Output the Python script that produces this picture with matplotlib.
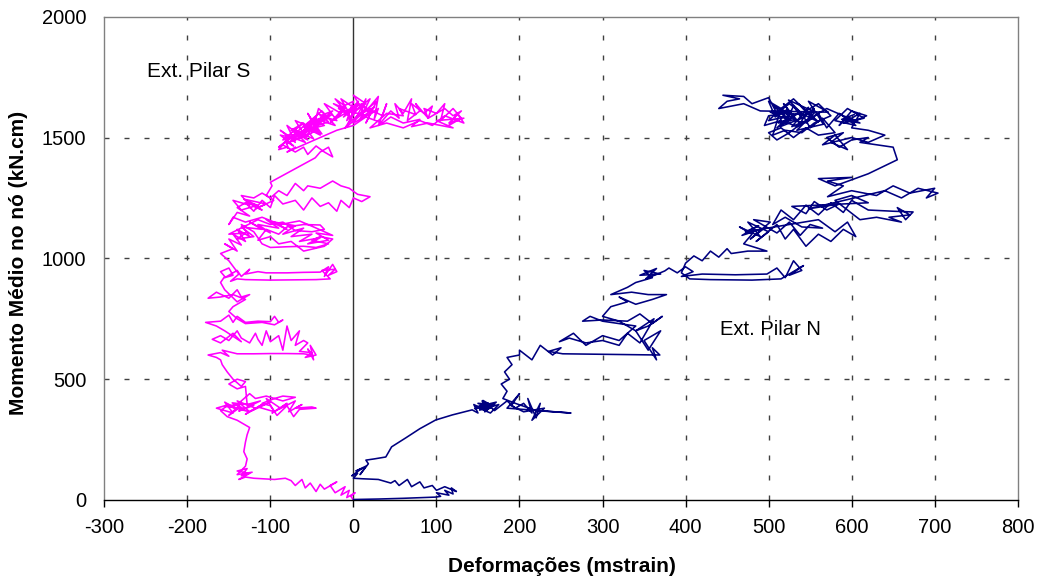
import numpy as np
import matplotlib
matplotlib.use("Agg")
import matplotlib.pyplot as plt

plt.rcParams['font.family'] = ['Liberation Sans', 'DejaVu Sans']
plt.rcParams['axes.unicode_minus'] = False

# Strain gauge readings (mstrain) vs. mean joint moment (kN.cm)
pilar_s_points = [
    (0, 0), (-3, 15), (2, 30), (-8, 10), (-5, 40), (-15, 20), (-10, 55), (-22, 30),
    (-28, 60), (-20, 75), (-35, 45), (-40, 65), (-45, 35), (-52, 70), (-58, 50),
    (-62, 85), (-70, 60), (-75, 80), (-82, 90), (-95, 85), (-110, 88), (-120, 90),
    (-130, 95), (-138, 85), (-125, 110), (-140, 120), (-128, 130), (-135, 100),
    (-122, 115), (-140, 105), (-130, 140), (-128, 170), (-132, 200), (-130, 240),
    (-128, 270), (-125, 300), (-140, 330), (-152, 345),
    (-160, 370), (-150, 395), (-165, 380), (-145, 360), (-155, 405), (-140, 375),
    (-150, 350), (-135, 400), (-148, 385), (-125, 365), (-140, 410), (-118, 380),
    (-130, 355), (-110, 395), (-122, 370), (-100, 405), (-115, 385), (-95, 365),
    (-105, 420), (-88, 380), (-98, 360), (-80, 400), (-90, 375), (-70, 410),
    (-78, 365), (-62, 395), (-70, 380), (-50, 385), (-45, 380), (-65, 375),
    (-72, 345), (-80, 390), (-92, 350), (-100, 390), (-110, 400), (-95, 420),
    (-85, 430), (-70, 425), (-85, 410), (-105, 430), (-118, 420), (-125, 440),
    (-140, 395), (-155, 388), (-132, 378), (-146, 402), (-120, 392), (-138, 368),
    (-112, 410), (-128, 395),
    (-130, 470), (-140, 460), (-150, 480), (-140, 500), (-130, 490), (-135, 470),
    (-145, 500), (-152, 530), (-158, 560), (-160, 580),
    (-165, 590), (-175, 600), (-160, 610), (-150, 595), (-158, 620), (-140, 605),
    (-120, 605), (-100, 606), (-80, 606), (-60, 605), (-50, 600), (-55, 625),
    (-48, 580), (-52, 640), (-45, 600), (-58, 590), (-50, 610), (-65, 615),
    (-55, 650), (-60, 660), (-70, 640), (-65, 700), (-75, 660), (-80, 720),
    (-85, 620), (-90, 680), (-100, 655), (-105, 700), (-110, 640), (-115, 665),
    (-118, 690), (-125, 650), (-135, 670), (-140, 700), (-150, 660), (-160, 680),
    (-170, 665), (-160, 650), (-145, 690), (-135, 655), (-155, 700), (-165, 720),
    (-178, 735), (-160, 740), (-150, 765), (-145, 735), (-140, 760), (-130, 735),
    (-115, 740), (-100, 738), (-95, 760), (-90, 735), (-85, 745), (-95, 725),
    (-110, 735), (-130, 730), (-140, 750), (-150, 780), (-145, 800),
    (-130, 830), (-145, 850), (-160, 840), (-175, 835), (-165, 860), (-150, 835),
    (-140, 870), (-135, 840), (-125, 850), (-140, 820), (-155, 870), (-160, 900),
    (-155, 925),
    (-160, 945), (-150, 960), (-145, 930), (-155, 920), (-140, 950), (-135, 925),
    (-125, 955), (-130, 935), (-115, 945), (-105, 940), (-80, 940), (-60, 942),
    (-40, 943), (-30, 965), (-35, 925), (-25, 975), (-20, 945), (-30, 930),
    (-22, 955), (-38, 950), (-28, 915), (-45, 912), (-70, 911), (-100, 910),
    (-130, 912), (-140, 915), (-148, 905), (-138, 935), (-150, 990),
    (-160, 1020), (-145, 1040), (-155, 1060), (-140, 1030), (-150, 1080),
    (-135, 1055), (-145, 1100), (-130, 1070), (-140, 1120), (-125, 1090),
    (-135, 1140), (-120, 1110), (-110, 1060), (-100, 1045), (-80, 1048),
    (-60, 1050), (-45, 1045), (-30, 1060), (-50, 1075), (-40, 1090), (-25, 1080),
    (-35, 1050), (-60, 1030), (-75, 1070), (-90, 1060), (-100, 1090), (-115, 1075),
    (-105, 1120), (-90, 1100), (-80, 1130), (-60, 1140), (-40, 1138), (-35, 1120),
    (-50, 1110), (-70, 1115), (-85, 1150), (-100, 1140), (-115, 1160),
    (-150, 1100), (-130, 1105), (-140, 1080), (-120, 1090), (-135, 1130),
    (-110, 1120), (-125, 1150), (-100, 1105), (-115, 1140), (-90, 1125),
    (-105, 1160), (-80, 1120), (-95, 1150), (-70, 1135), (-85, 1100), (-60, 1125),
    (-75, 1090), (-50, 1100), (-65, 1070), (-40, 1085), (-55, 1060), (-30, 1075),
    (-45, 1105), (-25, 1095), (-48, 1130), (-65, 1155), (-88, 1140), (-110, 1170),
    (-130, 1150), (-145, 1170), (-150, 1140), (-140, 1190), (-125, 1175),
    (-140, 1210), (-130, 1230), (-120, 1195), (-110, 1240), (-100, 1210),
    (-95, 1260), (-85, 1225), (-70, 1240), (-60, 1200), (-50, 1250), (-40, 1215),
    (-30, 1230), (-20, 1195), (-15, 1240), (-5, 1210), (0, 1250), (10, 1235),
    (20, 1255), (5, 1265), (-5, 1290), (-15, 1300), (-25, 1320), (-40, 1290),
    (-55, 1300), (-60, 1280), (-70, 1310), (-80, 1260), (-90, 1280), (-100, 1250),
    (-110, 1270), (-120, 1250), (-135, 1260), (-125, 1220), (-145, 1240),
    (-135, 1200), (-120, 1215), (-110, 1200), (-128, 1232), (-115, 1218),
    (-132, 1245), (-105, 1225), (-118, 1205), (-96, 1240), (-105, 1260),
    (-98, 1300), (-100, 1315), (-46, 1416), (-40, 1440), (-30, 1460), (-25, 1420),
    (-35, 1440), (-45, 1465), (-55, 1430), (-60, 1460), (-70, 1440), (-80, 1460),
    (-90, 1450), (-85, 1470), (-78, 1455), (-82, 1485), (-72, 1465), (-88, 1510),
    (-68, 1495), (-80, 1475), (-62, 1520), (-77, 1505), (-58, 1480), (-73, 1535),
    (-55, 1510), (-70, 1490), (-50, 1545), (-66, 1520), (-48, 1495), (-62, 1560),
    (-45, 1530), (-58, 1505), (-40, 1570), (-56, 1540), (-38, 1515), (-52, 1580),
    (-35, 1550), (-60, 1530), (-42, 1600), (-30, 1565), (-48, 1545), (-26, 1595),
    (-44, 1575), (-22, 1550), (-38, 1610),
    (-90, 1460), (-75, 1500), (-88, 1530), (-70, 1480), (-80, 1550), (-65, 1510),
    (-85, 1490), (-60, 1560), (-75, 1530), (-55, 1490), (-70, 1570), (-50, 1540),
    (-65, 1500), (-45, 1580), (-60, 1545), (-40, 1510), (-55, 1600), (-48, 1560),
    (-35, 1590), (-50, 1520), (-42, 1620), (-30, 1580), (-45, 1555), (-25, 1610),
    (-40, 1590), (-20, 1570), (-35, 1640), (-15, 1600), (-28, 1560), (-10, 1630),
    (-22, 1660), (-5, 1590), (-18, 1620), (0, 1650), (-8, 1570), (5, 1620),
    (-10, 1540), (8, 1590), (15, 1660), (0, 1560), (20, 1600), (10, 1640),
    (-20, 1580), (-10, 1620), (-24, 1640), (-5, 1600), (-15, 1660), (2, 1620),
    (-12, 1585), (6, 1650), (-6, 1560), (12, 1610), (0, 1675), (15, 1640),
    (-2, 1600), (20, 1660), (8, 1575), (25, 1625), (10, 1600), (28, 1650),
    (15, 1560), (22, 1610), (5, 1640), (-8, 1610), (18, 1590), (30, 1620),
    (25, 1575), (30, 1670), (18, 1620), (35, 1590), (40, 1640), (30, 1550),
    (45, 1610), (55, 1580), (50, 1640), (60, 1600), (70, 1660), (65, 1570),
    (80, 1610), (75, 1640), (90, 1580), (85, 1620), (100, 1600), (110, 1640),
    (105, 1570), (120, 1620), (130, 1580), (115, 1550), (125, 1600), (133, 1560),
    (110, 1590), (95, 1550), (80, 1570), (60, 1540), (40, 1560), (20, 1540),
    (40, 1600), (60, 1590), (55, 1620), (75, 1595), (70, 1640), (85, 1600),
    (95, 1630), (90, 1580), (110, 1620), (120, 1590), (130, 1610), (115, 1560),
    (133, 1580), (100, 1570), (120, 1540), (90, 1560), (70, 1545), (80, 1575),
    (60, 1560), (45, 1585), (35, 1560), (15, 1585), (0, 1550), (-20, 1530),
    (-40, 1500), (-60, 1470), (-80, 1440), (-70, 1460),
]

pilar_n_points = [
    (0, 2), (30, 4), (60, 7), (99, 12), (105, 15), (100, 30), (115, 20), (110, 40),
    (120, 25), (118, 50), (124, 35), (110, 55), (100, 40), (95, 60), (85, 50),
    (80, 75), (70, 55), (65, 85), (55, 60), (50, 80), (45, 70), (30, 85), (10, 88),
    (0, 90), (5, 110), (-2, 100), (10, 130), (3, 120), (15, 140), (8, 105),
    (18, 150), (15, 165), (25, 170), (39, 178), (46, 220), (63, 257), (80, 295),
    (99, 331), (119, 352), (143, 373),
    (150, 360), (145, 395), (160, 370), (155, 410), (165, 380), (150, 400),
    (170, 395), (158, 365), (172, 405), (148, 385), (165, 360), (175, 395),
    (152, 372), (162, 402), (146, 378), (168, 388), (156, 412), (170, 370),
    (185, 410), (195, 380), (205, 400), (215, 360), (210, 420), (220, 340),
    (225, 400), (215, 330), (230, 380), (205, 365), (190, 390), (200, 440),
    (185, 380), (262, 360), (220, 370), (195, 400), (180, 420), (185, 450),
    (178, 480), (188, 500), (182, 530), (191, 560), (185, 590), (200, 600),
    (200, 620), (215, 580), (225, 640), (240, 600), (250, 630), (235, 615),
    (252, 605), (300, 603), (369, 600), (360, 630), (365, 580), (350, 660),
    (370, 700), (355, 620), (340, 700), (362, 750), (345, 650), (330, 690),
    (320, 640), (300, 660), (280, 650), (260, 670), (248, 655), (265, 690),
    (280, 640), (300, 680), (320, 660), (340, 720), (300, 740), (285, 760),
    (276, 740), (300, 745), (330, 740), (345, 770), (360, 730), (372, 760),
    (355, 720), (340, 700), (320, 740), (300, 760), (310, 800), (330, 820),
    (320, 840), (340, 810), (360, 830), (377, 850), (355, 850), (335, 860),
    (310, 850), (330, 880), (340, 900), (360, 920), (350, 950), (370, 935),
    (345, 930), (365, 958), (352, 915), (375, 948),
    (380, 960), (390, 940), (400, 965), (409, 945), (395, 925), (420, 935),
    (460, 932), (498, 935), (510, 960), (520, 920), (530, 990), (540, 950),
    (525, 930), (542, 970), (515, 915), (480, 910), (430, 912), (405, 915),
    (395, 940), (400, 980), (410, 1010), (420, 990), (430, 1030), (440, 1005),
    (450, 1040), (455, 1020), (475, 1030), (498, 1030),
    (470, 1060), (480, 1100), (465, 1130), (490, 1090), (475, 1150), (500, 1110),
    (485, 1070), (510, 1140), (520, 1080), (530, 1120), (545, 1050), (560, 1100),
    (575, 1070), (590, 1120), (605, 1090), (595, 1150), (580, 1110), (560, 1160),
    (472, 1110), (488, 1135), (468, 1095), (495, 1125), (478, 1080), (502, 1150),
    (482, 1160), (510, 1105), (525, 1150), (538, 1095), (550, 1140), (565, 1125),
    (540, 1130), (520, 1170), (505, 1140), (515, 1200), (530, 1160), (545, 1220),
    (560, 1180), (575, 1230), (590, 1190), (600, 1240), (620, 1200), (650, 1195),
    (674, 1192), (665, 1160), (655, 1210), (670, 1180), (645, 1170), (660, 1150),
    (630, 1170), (610, 1160), (595, 1200), (580, 1240), (600, 1260), (620, 1230),
    (528, 1215), (545, 1185), (555, 1235), (570, 1200), (585, 1225), (548, 1205),
    (640, 1280), (660, 1250), (680, 1290), (704, 1270), (690, 1250), (700, 1290),
    (670, 1270), (650, 1300), (630, 1260), (600, 1280), (571, 1255), (590, 1300),
    (571, 1320), (600, 1335), (560, 1330), (580, 1300), (620, 1350), (655, 1408),
    (650, 1460), (630, 1470), (610, 1480), (620, 1500),
    (600, 1490), (585, 1460), (570, 1500), (590, 1520), (575, 1480), (595, 1450),
    (580, 1510), (565, 1470), (600, 1500), (620, 1480), (640, 1510), (620, 1530),
    (600, 1540), (610, 1600), (590, 1560), (615, 1580), (595, 1620), (580, 1570),
    (605, 1550), (585, 1600), (570, 1540), (560, 1600), (545, 1560), (555, 1620),
    (540, 1580), (530, 1630), (520, 1560), (535, 1600), (510, 1540), (525, 1590),
    (500, 1570), (515, 1620), (505, 1510), (520, 1530), (540, 1520), (555, 1560),
    (575, 1590), (560, 1640), (545, 1610), (530, 1660), (515, 1620), (500, 1650),
    (508, 1585), (522, 1615), (512, 1560), (532, 1575), (518, 1640), (538, 1555),
    (548, 1625), (528, 1545), (552, 1580), (536, 1640), (560, 1565), (542, 1595),
    (502, 1605), (526, 1570), (506, 1630), (530, 1595), (514, 1545), (544, 1585),
    (524, 1655), (556, 1605), (534, 1530), (566, 1555), (548, 1650), (572, 1605),
    (490, 1610), (470, 1640), (455, 1630), (440, 1620), (450, 1650), (465, 1660),
    (445, 1675), (470, 1670), (480, 1640), (500, 1665), (510, 1600), (525, 1640),
    (540, 1600), (550, 1540), (565, 1580), (580, 1520), (560, 1510), (545, 1540),
    (530, 1500), (515, 1540), (500, 1520), (510, 1490), (525, 1520), (540, 1560),
    (520, 1600), (500, 1590), (495, 1550), (515, 1570), (535, 1545), (555, 1590),
    (570, 1620), (590, 1590), (605, 1570), (618, 1590), (600, 1610), (585, 1550),
    (595, 1585), (610, 1560), (588, 1575), (603, 1595),
]

x_ticks = [-300, -200, -100, 0, 100, 200, 300, 400, 500, 600, 700, 800]
y_ticks = [0, 500, 1000, 1500, 2000]

s = np.array(pilar_s_points, dtype=float)
n = np.array(pilar_n_points, dtype=float)

fig = plt.figure(figsize=(10.39, 5.82), dpi=100)
ax = fig.add_axes([0.1004, 0.1409, 0.8791, 0.8304])
ax.set_xlim(-300, 800)
ax.set_ylim(0, 2000)

# dashed grid, skipping the frame and the zero axis
dash = (0, (3.6, 10.8))
for xv in x_ticks[1:-1]:
    if xv != 0:
        ax.axvline(xv, color='#404040', lw=1.0, ls=dash, zorder=1)
for yv in y_ticks[1:-1]:
    ax.axhline(yv, color='#404040', lw=1.0, ls=dash, zorder=1)
ax.axvline(0, color='#333333', lw=1.0, zorder=2)

ax.plot(s[:, 0], s[:, 1], color='#FF00FF', lw=1.15, zorder=3)
ax.plot(n[:, 0], n[:, 1], color='#000080', lw=1.15, zorder=3)

for side in ('left', 'top', 'right'):
    ax.spines[side].set_color('#808080')
    ax.spines[side].set_linewidth(1.0)
ax.spines['bottom'].set_color('black')
ax.spines['bottom'].set_linewidth(1.0)

ax.set_xticks(x_ticks)
ax.set_yticks(y_ticks)
ax.tick_params(axis='x', direction='out', length=5, width=1, color='black',
               labelsize=14.5, pad=8)
ax.tick_params(axis='y', length=0, labelsize=14.5, pad=13)

ax.set_xlabel('Deformações (mstrain)', fontsize=15, fontweight='bold')
ax.xaxis.label.set_va('center')
ax.xaxis.set_label_coords(0.501, -0.1366)
ax.set_ylabel('Momento Médio no nó (kN.cm)', fontsize=15, fontweight='bold')
ax.yaxis.label.set_va('center')
ax.yaxis.set_label_coords(-0.0945, 0.490)

ax.text(-248.5, 1772, 'Ext. Pilar S', fontsize=15, ha='left', va='center')
ax.text(441, 704, 'Ext. Pilar N', fontsize=14.5, ha='left', va='center')

fig.savefig('out.png', dpi=100)
